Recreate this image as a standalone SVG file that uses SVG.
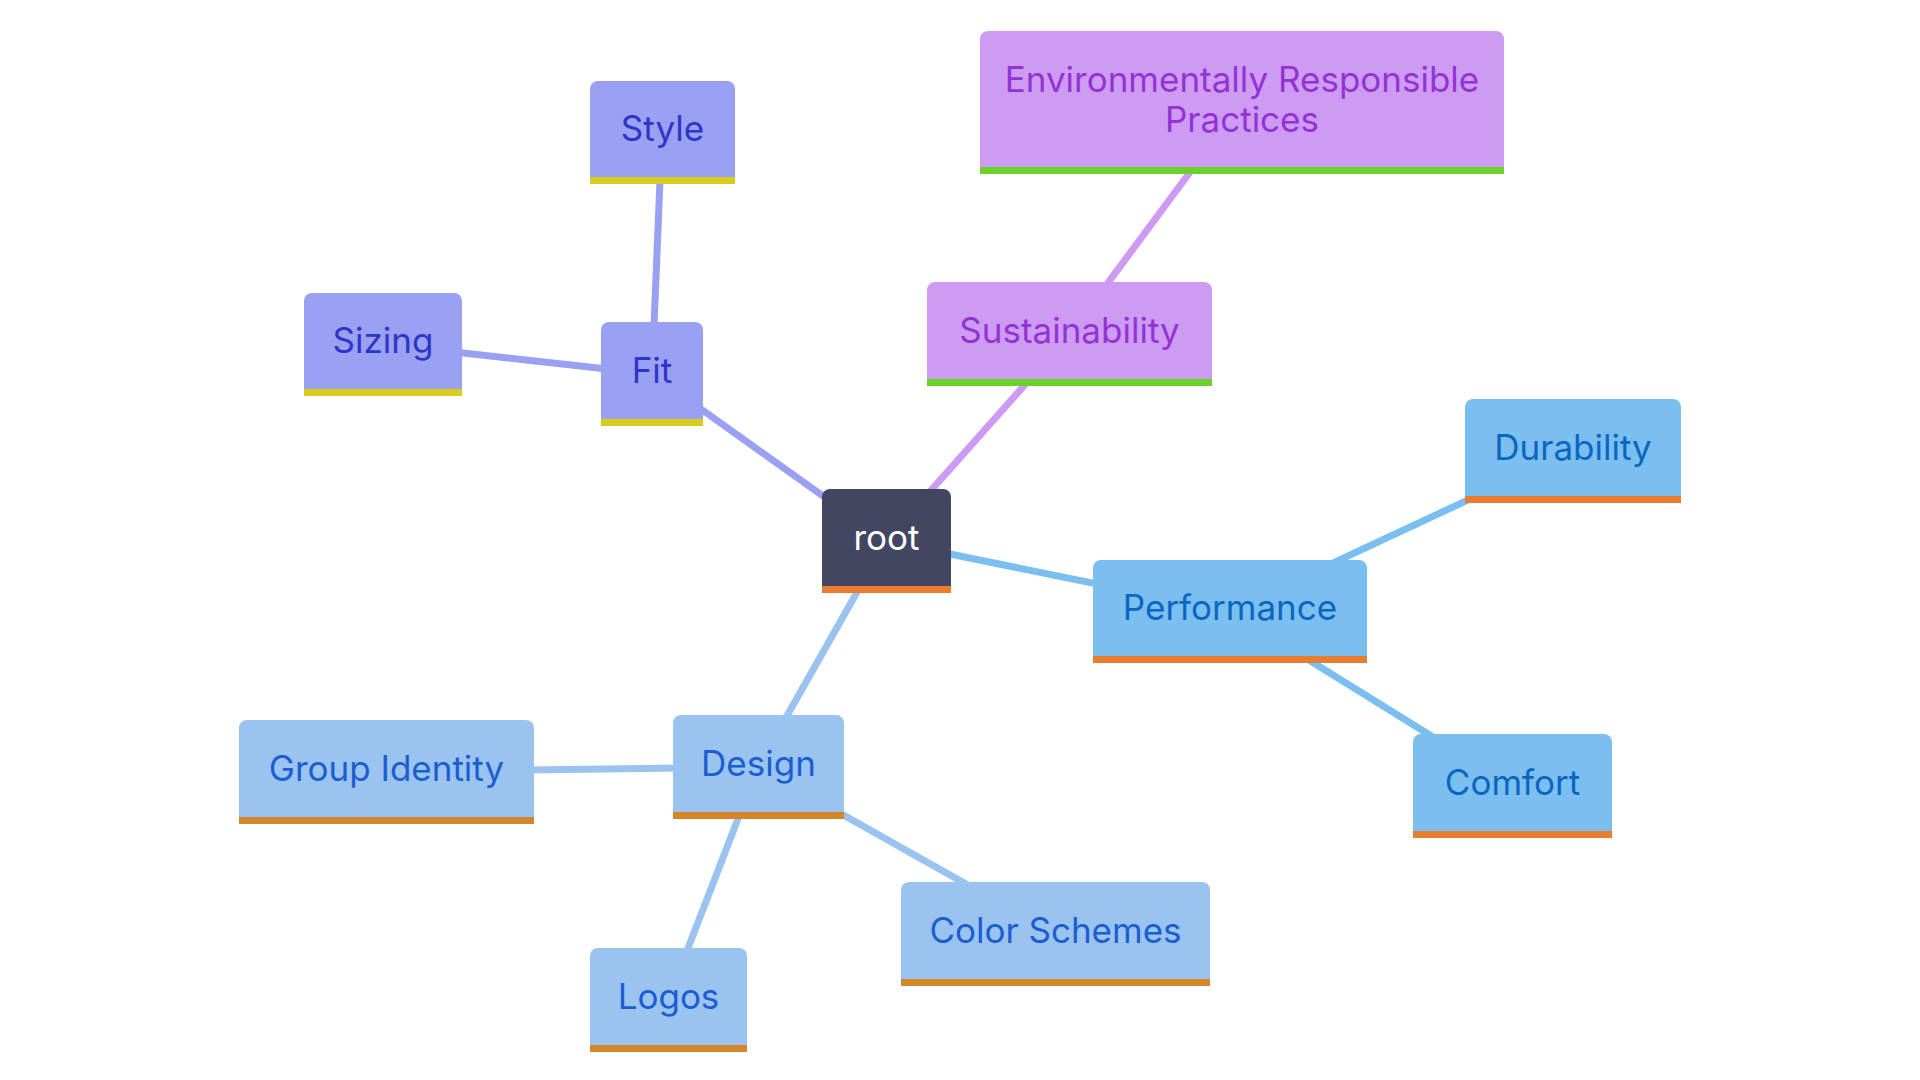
<svg xmlns="http://www.w3.org/2000/svg" width="1920" height="1080" viewBox="0 0 1920 1080">
<style>
text{font-family:Inter,"Noto Sans","Liberation Sans",sans-serif;font-size:35px;text-anchor:middle;dominant-baseline:central}
.e{stroke-width:7;stroke-linecap:round;fill:none}
.cf{fill:#9aa0f2}.cs{fill:#cd9cf2}.cp{fill:#7bbff0}.cd{fill:#9bc3f0}.cr{fill:#424660}
.sf{stroke:#9aa0f2}.ss{stroke:#cd9cf2}.sp{stroke:#7bbff0}.sd{stroke:#9bc3f0}
.tf{fill:#2e35c8}.ts{fill:#9432d6}.tp{fill:#0a66c0}.td{fill:#1a5ed0}.tr{fill:#ffffff}
.by{fill:#d8cc1f}.bg{fill:#6bd22a}.bo{fill:#e87d30}.bd{fill:#d4862a}
</style>
<rect width="1920" height="1080" fill="#ffffff"/>
<g id="connectors">
<line class="e sf" x1="886" y1="541" x2="652" y2="374"/>
<line class="e sf" x1="652" y1="374" x2="662" y2="132"/>
<line class="e sf" x1="652" y1="374" x2="383" y2="344"/>
<line class="e ss" x1="886" y1="541" x2="1070" y2="334"/>
<line class="e ss" x1="1070" y1="334" x2="1242" y2="102"/>
<line class="e sp" x1="886" y1="541" x2="1230" y2="611"/>
<line class="e sp" x1="1230" y1="611" x2="1573" y2="451"/>
<line class="e sp" x1="1230" y1="611" x2="1512" y2="786"/>
<line class="e sd" x1="886" y1="541" x2="758" y2="767"/>
<line class="e sd" x1="758" y1="767" x2="386" y2="772"/>
<line class="e sd" x1="758" y1="767" x2="668" y2="1000"/>
<line class="e sd" x1="758" y1="767" x2="1055" y2="934"/>
</g>
<g id="root">
<path class="cr" d="M822,497a8,8 0 0 1 8,-8h113a8,8 0 0 1 8,8v89h-129z"/>
<rect class="bo" x="822" y="586" width="129" height="7"/>
<text class="tr" x="886.5" y="537">root</text>
</g>
<g id="fit">
<path class="cf" d="M601,330a8,8 0 0 1 8,-8h86a8,8 0 0 1 8,8v89h-102z"/>
<rect class="by" x="601" y="419" width="102" height="7"/>
<text class="tf" x="652" y="370">Fit</text>
</g>
<g id="style">
<path class="cf" d="M590,89a8,8 0 0 1 8,-8h129a8,8 0 0 1 8,8v88h-145z"/>
<rect class="by" x="590" y="177" width="145" height="7"/>
<text class="tf" x="662.5" y="128">Style</text>
</g>
<g id="sizing">
<path class="cf" d="M304,301a8,8 0 0 1 8,-8h142a8,8 0 0 1 8,8v88h-158z"/>
<rect class="by" x="304" y="389" width="158" height="7"/>
<text class="tf" x="383" y="340">Sizing</text>
</g>
<g id="sustainability">
<path class="cs" d="M927,290a8,8 0 0 1 8,-8h269a8,8 0 0 1 8,8v89h-285z"/>
<rect class="bg" x="927" y="379" width="285" height="7"/>
<text class="ts" x="1069.5" y="330">Sustainability</text>
</g>
<g id="env">
<path class="cs" d="M980,39a8,8 0 0 1 8,-8h508a8,8 0 0 1 8,8v128h-524z"/>
<rect class="bg" x="980" y="167" width="524" height="7"/>
<text class="ts" x="1242" y="79">Environmentally Responsible</text>
<text class="ts" x="1242" y="119">Practices</text>
</g>
<g id="performance">
<path class="cp" d="M1093,568a8,8 0 0 1 8,-8h258a8,8 0 0 1 8,8v88h-274z"/>
<rect class="bo" x="1093" y="656" width="274" height="7"/>
<text class="tp" x="1230" y="607">Performance</text>
</g>
<g id="durability">
<path class="cp" d="M1465,407a8,8 0 0 1 8,-8h200a8,8 0 0 1 8,8v89h-216z"/>
<rect class="bo" x="1465" y="496" width="216" height="7"/>
<text class="tp" x="1573" y="447">Durability</text>
</g>
<g id="comfort">
<path class="cp" d="M1413,742a8,8 0 0 1 8,-8h183a8,8 0 0 1 8,8v89h-199z"/>
<rect class="bo" x="1413" y="831" width="199" height="7"/>
<text class="tp" x="1512.5" y="782">Comfort</text>
</g>
<g id="design">
<path class="cd" d="M673,723a8,8 0 0 1 8,-8h155a8,8 0 0 1 8,8v89h-171z"/>
<rect class="bd" x="673" y="812" width="171" height="7"/>
<text class="td" x="758.5" y="763">Design</text>
</g>
<g id="group-identity">
<path class="cd" d="M239,728a8,8 0 0 1 8,-8h279a8,8 0 0 1 8,8v89h-295z"/>
<rect class="bd" x="239" y="817" width="295" height="7"/>
<text class="td" x="386.5" y="768">Group Identity</text>
</g>
<g id="color-schemes">
<path class="cd" d="M901,890a8,8 0 0 1 8,-8h293a8,8 0 0 1 8,8v89h-309z"/>
<rect class="bd" x="901" y="979" width="309" height="7"/>
<text class="td" x="1055.5" y="930">Color Schemes</text>
</g>
<g id="logos">
<path class="cd" d="M590,956a8,8 0 0 1 8,-8h141a8,8 0 0 1 8,8v89h-157z"/>
<rect class="bd" x="590" y="1045" width="157" height="7"/>
<text class="td" x="668.5" y="996">Logos</text>
</g>
</svg>
